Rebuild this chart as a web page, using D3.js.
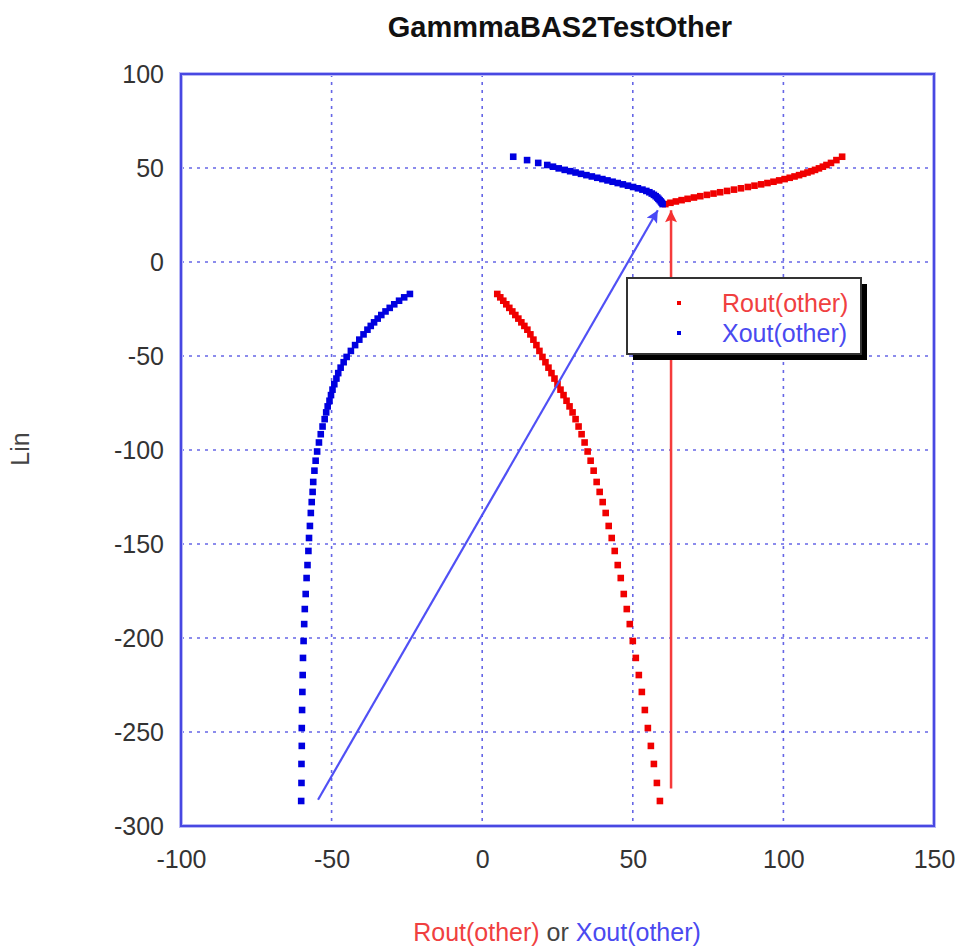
<!DOCTYPE html>
<html>
<head>
<meta charset="utf-8">
<script src="https://cdn.jsdelivr.net/npm/d3@7"></script>
<style>
  body { margin: 0; background: #fff; overflow: hidden; }
  svg { display: block; }
  text { font-family: "Liberation Sans", Arial, sans-serif; }
</style>
</head>
<body>
<svg id="chart" width="958" height="951"></svg>
<script>
  // axis ticks
  var xTicks = [-100, -50, 0, 50, 100, 150];
  var yTicks = [100, 50, 0, -50, -100, -150, -200, -250, -300];

  // lower branch : Lin, Rout(other), Xout(other)
  var linLower = [-17, -18.8, -20.6, -22.5, -24.4, -26.3, -28.2, -30.1, -32.1, -34, -36, -38.5, -41.3, -44.2, -47.3,
    -50.5, -53.3, -56.2, -59.1, -62, -65, -67.9, -70.8, -73.8, -76.8, -80, -83.6, -87.5, -91.6, -96, -100.8,
    -105.7, -111, -117, -122.3, -127.7, -133.5, -140.4, -146.8, -153.7, -161.2, -168.1, -176.6, -184.6, -192.6,
    -201.6, -210.6, -219.7, -228.7, -238.3, -247.9, -257.4, -267, -277.1, -286.7];
  var routLower = [5, 6, 7, 8, 9, 10, 11, 12, 13, 14, 15, 16, 17, 18, 19, 20, 21, 22, 23, 24, 25, 26, 27, 28, 29, 30,
    31, 32, 33, 34, 35, 36, 37, 38, 39, 40, 41, 42, 43, 44, 45, 46, 47, 48, 49, 50, 51, 52, 53, 54, 55, 56, 57, 58, 59];
  var xoutLower = [-24, -25.9, -27.6, -29.2, -30.7, -32.1, -33.5, -34.7, -35.9, -37, -38.1, -39.4, -40.8, -42.2, -43.6,
    -45, -46, -47, -47.8, -48.4, -49.1, -49.7, -50.2, -50.7, -51.3, -51.8, -52.3, -53, -53.6, -54.2, -54.8, -55.3,
    -55.7, -56.1, -56.3, -56.6, -56.9, -57.2, -57.5, -57.7, -58, -58.3, -58.6, -58.9, -59.1, -59.3, -59.5, -59.6,
    -59.7, -59.8, -59.9, -59.9, -60, -60, -60.1];

  // upper branch
  var linUpper = [30.8, 31.5, 32.2, 32.9, 33.6, 34.3, 35.0, 35.7, 36.4, 37.1, 37.8, 38.5, 39.2, 39.9, 40.6, 41.3, 42.0,
    42.7, 43.4, 44.1, 44.8, 45.5, 46.2, 46.9, 47.6, 48.3, 49.0, 49.8, 50.7, 51.6, 52.7, 54.2, 56.0];
  var routUpper = [60.8, 62.5, 64.3, 66.2, 68.2, 70.3, 72.4, 74.6, 76.8, 79, 81.3, 83.6, 85.9, 88.2, 90.4, 92.6, 94.7,
    96.7, 98.6, 100.4, 102.1, 103.7, 105.2, 106.6, 108, 109.3, 110.5, 111.8, 113.1, 114.3, 115.8, 117.6, 119.5];
  var xoutUpper = [59.9, 59.6, 59.3, 58.9, 58.5, 58.1, 57.6, 57.0, 56.3, 55.5, 54.5, 53.2, 51.7, 50.1, 48.4, 46.7, 45.0,
    43.3, 41.6, 39.9, 38.2, 36.4, 34.6, 32.8, 31.0, 29.2, 27.4, 25.4, 23.5, 21.6, 18.6, 14.9, 10.3];

  // annotation arrows [from, to]
  var blueArrow = [[-54.5, -286], [58.3, 27.5]];
  var redArrow = [[62.7, -280], [62.7, 27.5]];

  var series = [
    { name: "Rout(other)", color: "#f00000", x: routLower.concat(routUpper) },
    { name: "Xout(other)", color: "#0000e0", x: xoutLower.concat(xoutUpper) }
  ];
  var linAll = linLower.concat(linUpper);

  var svg = d3.select("#chart");
  var width = +svg.attr("width");
  var height = +svg.attr("height");
  var margin = { top: 74, right: 24, bottom: 125, left: 181 };
  var innerWidth = width - margin.left - margin.right;
  var innerHeight = height - margin.top - margin.bottom;

  var xScale = d3.scaleLinear().domain([-100, 150]).range([0, innerWidth]);
  var yScale = d3.scaleLinear().domain([-300, 100]).range([innerHeight, 0]);

  var defs = svg.append("defs");
  [["arrBlue", "#4848f5"], ["arrRed", "#f53030"]].forEach(function (m) {
    defs.append("marker")
      .attr("id", m[0])
      .attr("viewBox", "0 0 10 10")
      .attr("refX", 10).attr("refY", 5)
      .attr("markerWidth", 18).attr("markerHeight", 12)
      .attr("markerUnits", "userSpaceOnUse")
      .attr("orient", "auto")
      .append("path")
      .attr("d", "M0,0 L10,5 L0,10 L2,5 Z")
      .attr("fill", m[1]);
  });

  var g = svg.append("g")
    .attr("transform", "translate(" + margin.left + "," + margin.top + ")");

  // grid
  g.append("g").selectAll("line")
    .data(xTicks.slice(1, -1))
    .enter().append("line")
    .attr("x1", function (d) { return xScale(d); })
    .attr("x2", function (d) { return xScale(d); })
    .attr("y1", 0).attr("y2", innerHeight)
    .attr("stroke", "#4040e0").attr("stroke-width", 1.6)
    .attr("stroke-opacity", 0.8)
    .attr("stroke-dasharray", "3,5");
  g.append("g").selectAll("line")
    .data(yTicks.slice(1, -1))
    .enter().append("line")
    .attr("y1", function (d) { return yScale(d); })
    .attr("y2", function (d) { return yScale(d); })
    .attr("x1", 0).attr("x2", innerWidth)
    .attr("stroke", "#4040e0").attr("stroke-width", 1.6)
    .attr("stroke-opacity", 0.8)
    .attr("stroke-dasharray", "3,5");

  // frame
  g.append("rect")
    .attr("x", 0).attr("y", 0)
    .attr("width", innerWidth).attr("height", innerHeight)
    .attr("fill", "none")
    .attr("stroke", "#b8b8f6").attr("stroke-width", 4);
  g.append("rect")
    .attr("x", 0).attr("y", 0)
    .attr("width", innerWidth).attr("height", innerHeight)
    .attr("fill", "none")
    .attr("stroke", "#4848e2").attr("stroke-width", 2);

  // axes (labels only), plain hyphen for minus
  var tickFmt = function (d) { return String(d); };
  var xAxis = d3.axisBottom(xScale).tickValues(xTicks).tickFormat(tickFmt).tickSize(0).tickPadding(24);
  var yAxis = d3.axisLeft(yScale).tickValues(yTicks).tickFormat(tickFmt).tickSize(0).tickPadding(17);
  var xAxisG = g.append("g").attr("transform", "translate(0," + innerHeight + ")").call(xAxis);
  var yAxisG = g.append("g").call(yAxis);
  [xAxisG, yAxisG].forEach(function (a) {
    a.select(".domain").remove();
    a.selectAll(".tick text")
      .attr("fill", "#333")
      .style("font-size", "25px")
      .style("font-family", "Liberation Sans, Arial, sans-serif");
  });

  // points
  series.forEach(function (s) {
    g.append("g").selectAll("rect")
      .data(s.x)
      .enter().append("rect")
      .attr("x", function (d) { return xScale(d) - 3.3; })
      .attr("y", function (d, i) { return yScale(linAll[i]) - 3.3; })
      .attr("width", 6.6).attr("height", 6.6)
      .attr("fill", s.color);
  });

  // legend
  var legend = svg.append("g").attr("transform", "translate(627,278)");
  legend.append("rect")
    .attr("x", 6).attr("y", 6).attr("width", 234).attr("height", 76)
    .attr("fill", "#000");
  legend.append("rect")
    .attr("x", 0).attr("y", 0).attr("width", 234).attr("height", 76)
    .attr("fill", "#fff").attr("stroke", "#333").attr("stroke-width", 2);
  series.forEach(function (s, i) {
    legend.append("rect")
      .attr("x", 50).attr("y", 23 + i * 30)
      .attr("width", 4).attr("height", 4)
      .attr("fill", s.color);
    legend.append("text")
      .attr("x", 95).attr("y", 25 + i * 30)
      .attr("dy", "0.35em")
      .attr("fill", i === 0 ? "#f04040" : "#4a4af0")
      .style("font-size", "25px")
      .text(s.name);
  });

  // arrows
  g.append("line")
    .attr("x1", xScale(blueArrow[0][0])).attr("y1", yScale(blueArrow[0][1]))
    .attr("x2", xScale(blueArrow[1][0])).attr("y2", yScale(blueArrow[1][1]))
    .attr("stroke", "#5050f5").attr("stroke-width", 2.2)
    .attr("marker-end", "url(#arrBlue)");
  g.append("line")
    .attr("x1", xScale(redArrow[0][0])).attr("y1", yScale(redArrow[0][1]))
    .attr("x2", xScale(redArrow[1][0])).attr("y2", yScale(redArrow[1][1]))
    .attr("stroke", "#f53b3b").attr("stroke-width", 2.5)
    .attr("marker-end", "url(#arrRed)");

  // titles
  svg.append("text")
    .attr("x", 560).attr("y", 37)
    .attr("text-anchor", "middle")
    .style("font-size", "29px").style("font-weight", "bold")
    .attr("fill", "#111")
    .text("GammmaBAS2TestOther");

  var xTitle = svg.append("text")
    .attr("x", 557).attr("y", 941)
    .attr("text-anchor", "middle")
    .style("font-size", "25px");
  xTitle.append("tspan").attr("fill", "#f04040").text("Rout(other)");
  xTitle.append("tspan").attr("fill", "#444").text(" or ");
  xTitle.append("tspan").attr("fill", "#4a4af0").text("Xout(other)");

  svg.append("text")
    .attr("transform", "translate(29,449) rotate(-90)")
    .attr("text-anchor", "middle")
    .attr("fill", "#444")
    .style("font-size", "25px")
    .text("Lin");
</script>
</body>
</html>
